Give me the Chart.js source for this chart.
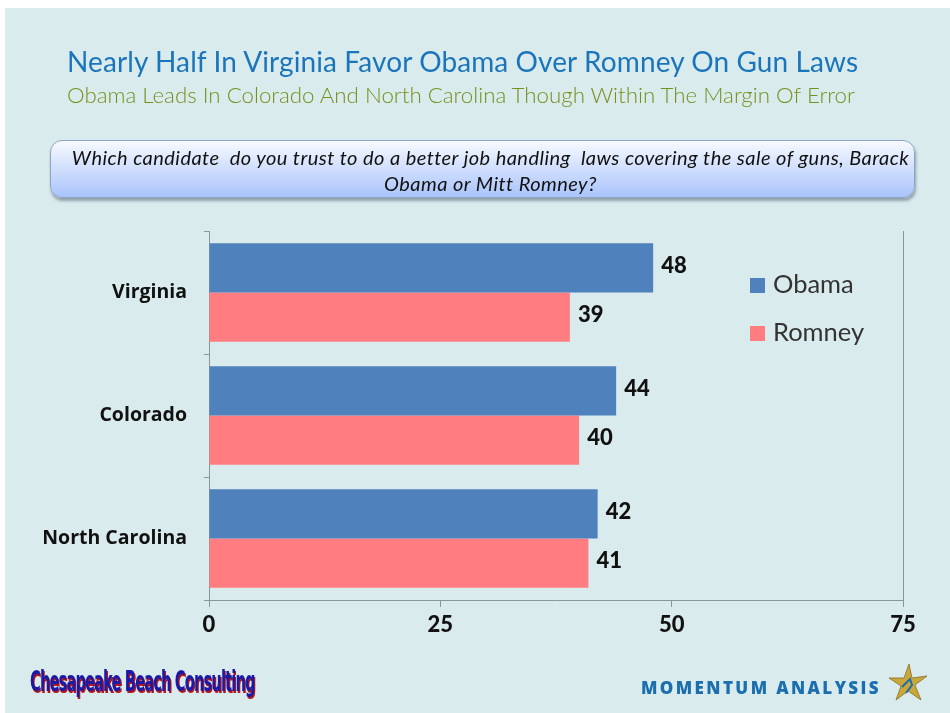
<!DOCTYPE html>
<html>
<head>
<meta charset="utf-8">
<script src="https://cdn.jsdelivr.net/npm/chart.js@4.4.0/dist/chart.umd.min.js"></script>
<style>
  html, body { margin: 0; padding: 0; background: #fff; }
  #slide {
    position: absolute; left: 5px; top: 8px; width: 945px; height: 705px;
    background: #d9ebed; overflow: hidden;
  }
  #chartWrap { position: absolute; left: -5px; top: -8px; width: 950px; height: 713px; }
  .title {
    position: absolute; left: 62px; top: 36px; font-family: Lato, sans-serif;
    font-size: 28px; color: #1b75bb; white-space: nowrap; letter-spacing: 0.1px;
  }
  .subtitle {
    position: absolute; left: 62px; top: 73px; font-family: Lato, sans-serif; font-weight: 300;
    font-size: 22.3px; color: #76901d; white-space: nowrap;
  }
  .question {
    position: absolute; left: 45px; top: 132px; width: 865px; height: 58px;
    border-radius: 12px; border: 1px solid #8ea4c4;
    background: linear-gradient(#f7f9ff, #a9c4fb);
    box-shadow: 1px 3px 3px rgba(60,70,90,0.45);
    font-family: Lato, sans-serif; font-style: italic; font-size: 20px; letter-spacing: 0.45px; color: #111;
    text-align: center; line-height: 26px; padding: 3px 0 0 16px; box-sizing: border-box;
  }
  .cbc {
    position: absolute; left: 25px; top: 656px; font-family: "DejaVu Sans Condensed", "DejaVu Sans", sans-serif;
    font-weight: bold; font-size: 29px; color: #1a1aa6; letter-spacing: -1.5px;
    text-shadow: 2px 2px 0 #b3161b; transform: scaleX(0.56); transform-origin: left top;
    white-space: nowrap;
  }
  .ma {
    position: absolute; left: 636px; top: 668px; font-family: "Open Sans", sans-serif;
    font-weight: 800; font-size: 17px; color: #1b6fae; letter-spacing: 2.4px; white-space: nowrap;
  }
  .star { position: absolute; left: 883px; top: 655px; }
</style>
</head>
<body>
<div id="slide">
  <div id="chartWrap"><canvas id="chart" width="950" height="713"></canvas></div>
  <div class="title">Nearly Half In Virginia Favor Obama Over Romney On Gun Laws</div>
  <div class="subtitle">Obama Leads In Colorado And North Carolina Though Within The Margin Of Error</div>
  <div class="question">Which candidate&nbsp; do you trust to do a better job handling&nbsp; laws covering the sale of guns, Barack<br>Obama or Mitt Romney?</div>
  <div class="cbc">Chesapeake Beach Consulting</div>
  <div class="ma">MOMENTUM ANALYSIS</div>
  <svg class="star" width="40" height="40" viewBox="0 0 40 40">
    <polygon points="21,1 24,15 39,13 27,22 33,37 20,28 8,37 13,23 1,15 16,15"
             fill="#c9a73b" stroke="#8a6f1e" stroke-width="0.8"/>
    <path d="M14 24 L22 16 L24 22 L18 30" fill="none" stroke="#1b6fae" stroke-width="2"/>
  </svg>
</div>
<script>
const states = ['Virginia', 'Colorado', 'North Carolina'];
const obama = [48, 44, 42];
const romney = [39, 40, 41];
const xTicks = [0, 25, 50, 75];

const axisGray = '#8a9699';

// value labels at the end of each bar
const valueLabels = {
  id: 'valueLabels',
  afterDatasetsDraw(chart) {
    const ctx = chart.ctx;
    ctx.save();
    ctx.font = '900 22px Lato, sans-serif';
    ctx.fillStyle = '#111';
    ctx.textBaseline = 'middle';
    chart.data.datasets.forEach((ds, i) => {
      chart.getDatasetMeta(i).data.forEach((bar, j) => {
        ctx.fillText(ds.data[j], bar.x + 8, bar.y - 2);
      });
    });
    ctx.restore();
  }
};

// legend drawn inside the plot, like the original
const insideLegend = {
  id: 'insideLegend',
  afterDraw(chart) {
    const ctx = chart.ctx;
    ctx.save();
    ctx.font = '25.5px Lato, sans-serif';
    ctx.textBaseline = 'middle';
    chart.data.datasets.forEach((ds, i) => {
      const y = 285 + i * 48;
      ctx.fillStyle = ds.backgroundColor;
      ctx.fillRect(750, y - 7, 15, 15);
      ctx.fillStyle = '#333';
      ctx.fillText(ds.label, 773, y);
    });
    ctx.restore();
  }
};

new Chart(document.getElementById('chart'), {
  type: 'bar',
  data: {
    labels: states,
    datasets: [
      { label: 'Obama', data: obama, backgroundColor: '#4f81bd', categoryPercentage: 0.8, barPercentage: 1.0 },
      { label: 'Romney', data: romney, backgroundColor: '#ff7c80', categoryPercentage: 0.8, barPercentage: 1.0 }
    ]
  },
  options: {
    indexAxis: 'y',
    responsive: false,
    animation: false,
    layout: { padding: { top: 231, right: 47, bottom: 68, left: 0 } },
    plugins: { legend: { display: false }, tooltip: { enabled: false } },
    scales: {
      x: {
        min: 0, max: 75,
        afterBuildTicks: (scale) => { scale.ticks = xTicks.map(v => ({ value: v })); },
        afterFit: (scale) => { scale.height = 45; },
        border: { color: axisGray },
        grid: {
          color: (c) => c.tick && c.tick.value === 75 ? axisGray : 'transparent',
          tickColor: axisGray, tickLength: 7
        },
        ticks: { padding: 5, color: '#111', font: { family: 'Lato, sans-serif', size: 22, weight: '900' } }
      },
      y: {
        afterFit: (scale) => { scale.width = 209; },
        border: { color: axisGray },
        grid: { color: 'transparent', tickColor: axisGray, tickLength: 5 },
        ticks: { padding: 17, color: '#111', font: { family: '"Open Sans", sans-serif', size: 19.5, weight: 'bold' } }
      }
    }
  },
  plugins: [valueLabels, insideLegend]
});
</script>
</body>
</html>
